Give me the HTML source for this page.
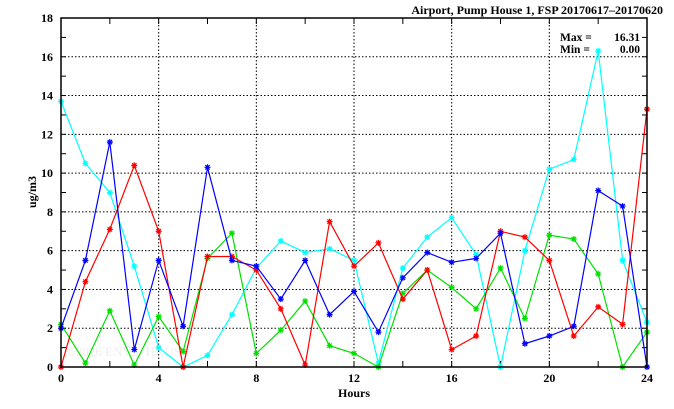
<!DOCTYPE html>
<html><head><meta charset="utf-8"><style>
html,body{margin:0;padding:0;background:#fff;}
svg{display:block;font-family:"Liberation Serif",serif;}
</style></head><body>
<svg id="s" width="674" height="409" xmlns="http://www.w3.org/2000/svg">
<text x="663" y="14" text-anchor="end" font-size="12" font-weight="bold">Airport, Pump House 1, FSP 20170617–20170620</text>
<text x="560" y="41" font-size="11.5" font-weight="bold">Max =</text>
<text x="640" y="41" text-anchor="end" font-size="11.5" font-weight="bold">16.31</text>
<text x="560" y="53" font-size="11.5" font-weight="bold">Min =</text>
<text x="640" y="53" text-anchor="end" font-size="11.5" font-weight="bold">0.00</text>
<text x="66" y="356" font-size="13" fill="#eeeeee">©2026 ENVS, HKUST</text>
<text x="354" y="397" text-anchor="middle" font-size="12" font-weight="bold">Hours</text>
<text transform="translate(36,192) rotate(-90)" text-anchor="middle" font-size="12" font-weight="bold">ug/m3</text>
<g id="g"></g>
<rect x="61" y="18" width="586" height="349" fill="none" stroke="#000" stroke-width="1.5"/>
</svg>
<script>
var X=function(h){return 61+h*586/24},Y=function(v){return 367-v*349/18};
var g=document.getElementById('g'),h='';
for(var i=4;i<24;i+=4)h+='<line x1="'+X(i)+'" y1="18" x2="'+X(i)+'" y2="367" stroke="#000" stroke-dasharray="1.5,2"/>';
for(var v=2;v<18;v+=2)h+='<line x1="61" y1="'+Y(v)+'" x2="647" y2="'+Y(v)+'" stroke="#000" stroke-dasharray="1.5,2"/>';
for(var i=2;i<24;i+=2){h+='<line x1="'+X(i)+'" y1="367" x2="'+X(i)+'" y2="361" stroke="#000"/><line x1="'+X(i)+'" y1="18" x2="'+X(i)+'" y2="24" stroke="#000"/>';}
for(var v=1;v<18;v++){h+='<line x1="61" y1="'+Y(v)+'" x2="66" y2="'+Y(v)+'" stroke="#000"/><line x1="647" y1="'+Y(v)+'" x2="642" y2="'+Y(v)+'" stroke="#000"/>';}
for(var i=0;i<=24;i+=4)h+='<text x="'+X(i)+'" y="382" text-anchor="middle" font-size="12" font-weight="bold">'+i+'</text>';
for(var v=0;v<=18;v+=2)h+='<text x="53" y="'+(Y(v)+4)+'" text-anchor="end" font-size="12" font-weight="bold">'+v+'</text>';
var S=[["#00ffff",[13.7,10.5,9.0,5.2,1.0,0,0.6,2.7,5.1,6.5,5.9,6.1,5.5,0.2,5.1,6.7,7.7,5.8,0,6.0,10.2,10.7,16.3,5.5,2.3]],
["#00e000",[2.2,0.2,2.9,0.1,2.6,0.8,5.6,6.9,0.7,1.9,3.4,1.1,0.7,0,3.8,5.0,4.1,3.0,5.1,2.5,6.8,6.6,4.8,0,1.8]],
["#ff0000",[0,4.4,7.1,10.4,7.0,0,5.7,5.7,5.0,3.0,0.1,7.5,5.2,6.4,3.5,5.0,0.9,1.6,7.0,6.7,5.5,1.6,3.1,2.2,13.3]],
["#0000ff",[2.0,5.5,11.6,0.9,5.5,2.1,10.3,5.5,5.2,3.5,5.5,2.7,3.9,1.8,4.6,5.9,5.4,5.6,6.9,1.2,1.6,2.1,9.1,8.3,0]]];
S.forEach(function(s){var p=s[1].map(function(v,i){return X(i).toFixed(1)+','+Y(v).toFixed(1)}).join(' ');
h+='<polyline points="'+p+'" fill="none" stroke="'+s[0]+'" stroke-width="1.2"/>';
s[1].forEach(function(v,i){var x=X(i),y=Y(v);h+='<path d="M'+(x-3)+' '+y+'h6M'+x+' '+(y-3)+'v6M'+(x-2.2)+' '+(y-2.2)+'l4.4 4.4M'+(x-2.2)+' '+(y+2.2)+'l4.4 -4.4" stroke="'+s[0]+'" stroke-width="1.2"/>';});});
g.innerHTML=h;
</script>
</body></html>
